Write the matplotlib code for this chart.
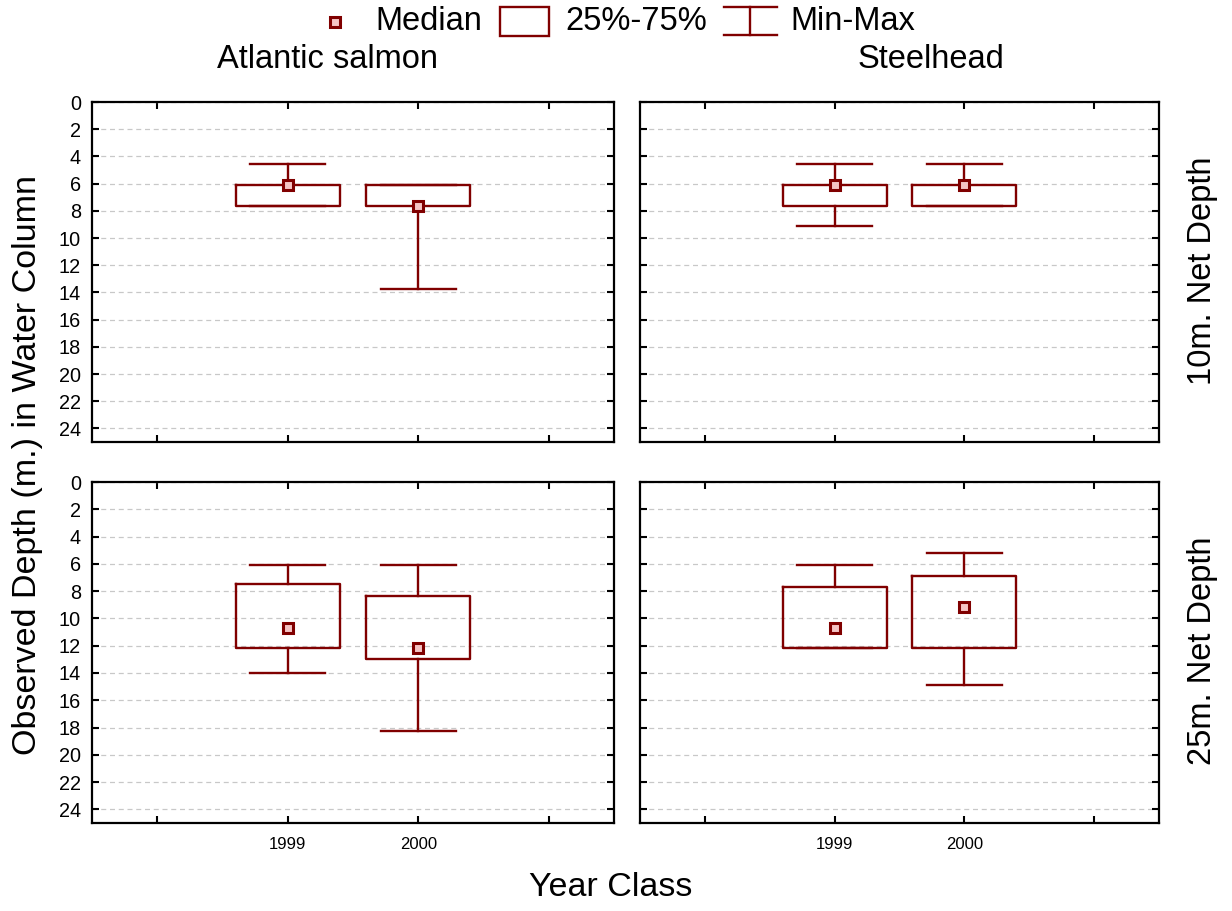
import matplotlib.pyplot as plt
from matplotlib.patches import Rectangle
from matplotlib.lines import Line2D

plt.rcParams['font.family'] = ['Liberation Sans', 'DejaVu Sans']

# data: depths in metres, per year class (1999, 2000)
years = ['1999', '2000']

atl_10_min = [4.57, 6.10]
atl_10_q1 = [6.10, 6.10]
atl_10_med = [6.10, 7.62]
atl_10_q3 = [7.62, 7.62]
atl_10_max = [7.62, 13.72]

stl_10_min = [4.57, 4.57]
stl_10_q1 = [6.10, 6.10]
stl_10_med = [6.10, 6.10]
stl_10_q3 = [7.62, 7.62]
stl_10_max = [9.14, 7.62]

atl_25_min = [6.10, 6.10]
atl_25_q1 = [7.45, 8.37]
atl_25_med = [10.67, 12.19]
atl_25_q3 = [12.19, 13.00]
atl_25_max = [14.00, 18.29]

stl_25_min = [6.10, 5.18]
stl_25_q1 = [7.70, 6.90]
stl_25_med = [10.67, 9.14]
stl_25_q3 = [12.19, 12.19]
stl_25_max = [12.19, 14.90]

species = ['Atlantic salmon', 'Steelhead']
nets = ['10m. Net Depth', '25m. Net Depth']

panels = [
    [(atl_10_min, atl_10_q1, atl_10_med, atl_10_q3, atl_10_max),
     (stl_10_min, stl_10_q1, stl_10_med, stl_10_q3, stl_10_max)],
    [(atl_25_min, atl_25_q1, atl_25_med, atl_25_q3, atl_25_max),
     (stl_25_min, stl_25_q1, stl_25_med, stl_25_q3, stl_25_max)],
]

W, H = 1232, 911
RED = '#800000'
PINK = '#f5c4c4'

fig = plt.figure(figsize=(W / 100, H / 100), dpi=100)

def px_axes(x0, y0, x1, y1):
    return fig.add_axes([x0 / W, 1 - y1 / H, (x1 - x0) / W, (y1 - y0) / H])

col_x = [(92, 614), (640, 1159)]
row_y = [(102, 442), (482, 823)]

for r in range(2):
    for c in range(2):
        ax = px_axes(col_x[c][0], row_y[r][0], col_x[c][1], row_y[r][1])
        mn, q1, med, q3, mx = panels[r][c]
        stats = []
        for i in range(len(years)):
            stats.append(dict(whislo=mn[i], q1=q1[i], med=med[i], q3=q3[i],
                              whishi=mx[i], mean=med[i], fliers=[]))
        ax.bxp(stats, positions=[1, 2], widths=0.8, capwidths=0.575,
               showmeans=True, showfliers=False, manage_ticks=False,
               boxprops=dict(color=RED, linewidth=1.7),
               whiskerprops=dict(color=RED, linewidth=1.7),
               capprops=dict(color=RED, linewidth=1.7),
               medianprops=dict(visible=False),
               meanprops=dict(marker='s', markersize=7, markerfacecolor=PINK,
                              markeredgecolor=RED, markeredgewidth=2.2),
               zorder=3)
        ax.set_xlim(-0.5, 3.5)
        ax.set_ylim(25, 0)
        ax.set_yticks(range(0, 25, 2))
        ax.set_xticks([0, 1, 2, 3])
        if r == 1:
            ax.set_xticklabels([''] + years + [''], fontsize=12)
        else:
            ax.set_xticklabels([])
        if c == 0:
            ax.tick_params(axis='y', labelsize=14.3)
        else:
            ax.set_yticklabels([])
        ax.tick_params(direction='in', length=5, width=1.5, top=True, right=True, pad=8)
        ax.tick_params(axis='x', pad=10)
        ax.yaxis.grid(True, linestyle=(0, (4, 3)), color='#c8c8c8', linewidth=0.9)
        ax.set_axisbelow(True)
        for s in ax.spines.values():
            s.set_linewidth(1.6)

# titles and labels
fig.text(327 / W, 1 - 60 / H, species[0], ha='center', va='center', fontsize=23.5)
fig.text(931 / W, 1 - 60 / H, species[1], ha='center', va='center', fontsize=23.5)
fig.text(1202 / W, 1 - 271 / H, nets[0], ha='center', va='center', rotation=90, fontsize=23.5)
fig.text(1202 / W, 1 - 651 / H, nets[1], ha='center', va='center', rotation=90, fontsize=23.5)
fig.text(28 / W, 1 - 465 / H, 'Observed Depth (m.) in Water Column', ha='center', va='center',
         rotation=90, fontsize=24.5)
fig.text(611 / W, 1 - 887 / H, 'Year Class', ha='center', va='center', fontsize=24.5)

# legend drawn in pixel coordinates
lg = fig.add_axes([0, 0, 1, 1], facecolor='none')
lg.set_xlim(0, W)
lg.set_ylim(H, 0)
lg.axis('off')
lg.add_line(Line2D([335], [22], marker='s', markersize=7, markerfacecolor=PINK,
                   markeredgecolor=RED, markeredgewidth=2.2))
lg.text(375, 22, 'Median', va='center', ha='left', fontsize=23.5)
lg.add_patch(Rectangle((500, 7), 49, 29, fill=False, edgecolor=RED, linewidth=1.7))
lg.text(565, 22, '25%-75%', va='center', ha='left', fontsize=23.5)
lg.add_line(Line2D([724, 777], [7, 7], color=RED, linewidth=1.7))
lg.add_line(Line2D([724, 777], [35, 35], color=RED, linewidth=1.7))
lg.add_line(Line2D([750, 750], [7, 35], color=RED, linewidth=1.7))
lg.text(790, 22, 'Min-Max', va='center', ha='left', fontsize=23.5)

fig.savefig('out.png', dpi=100)
